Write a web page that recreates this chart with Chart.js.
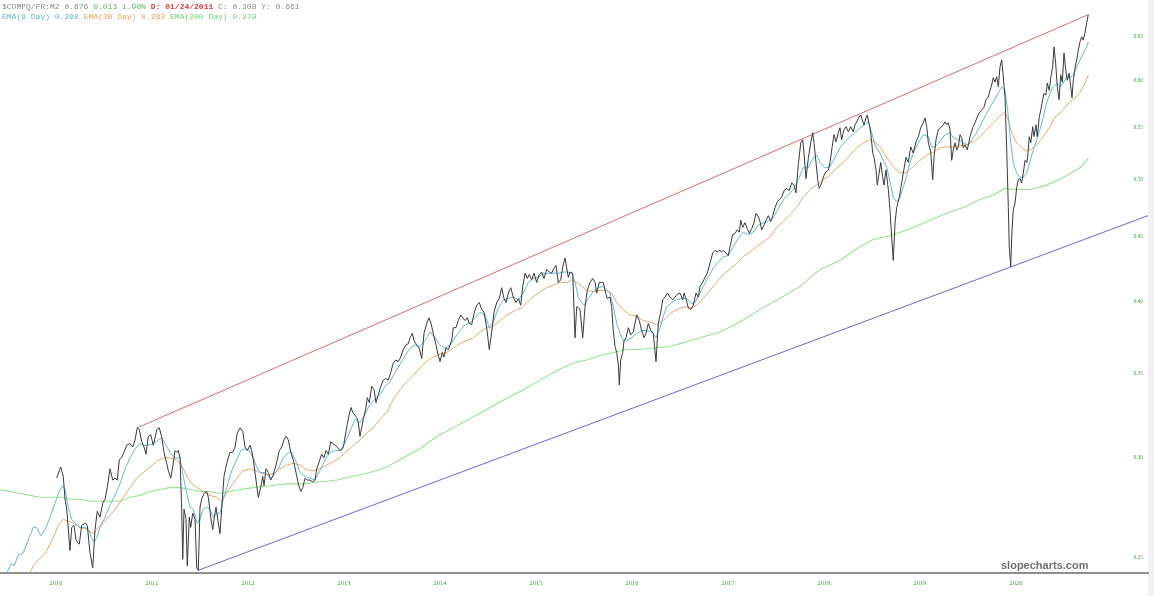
<!DOCTYPE html>
<html><head><meta charset="utf-8">
<script src="https://cdn.jsdelivr.net/npm/chart.js@4"></script>
<style>html,body{margin:0;padding:0;background:#fff;overflow:hidden}</style>
</head><body>
<canvas id="c" width="1154" height="596"></canvas>
<script>
// x unit: months since June 2009
const yearLabels = ['2010','2011','2012','2013','2014','2015','2016','2017','2018','2019','2020'];
const yearTickMonths = [7,19,31,43,55,67,79,91,103,115,127];
const priceTicks = [0.25,0.30,0.35,0.40,0.45,0.50,0.55,0.60,0.65];

// $COMPQ / M2 ratio (close)
const closeSeries = [
[7.09,0.289],[7.59,0.295],[7.91,0.290],[8.13,0.278],[8.34,0.273],[8.75,0.253],[8.96,0.264],[9.25,0.265],[9.5,0.258],[9.66,0.257],
[9.91,0.256],[10.21,0.265],[10.63,0.266],[10.91,0.265],[11.25,0.252],[11.59,0.245],[11.88,0.263],[12.16,0.272],[12.5,0.269],[12.84,0.276],
[13.13,0.278],[13.41,0.284],[13.75,0.294],[14.09,0.288],[14.38,0.289],[14.66,0.288],[14.91,0.299],[15.21,0.300],[15.5,0.303],[15.84,0.307],
[16.25,0.308],[16.59,0.306],[16.88,0.310],[17.16,0.317],[17.41,0.316],[17.71,0.309],[18.0,0.306],[18.25,0.302],[18.54,0.312],[18.84,0.313],
[19.16,0.307],[19.38,0.311],[19.59,0.316],[19.91,0.317],[20.21,0.312],[20.5,0.303],[20.84,0.297],[21.04,0.293],[21.34,0.289],[21.59,0.295],
[21.88,0.304],[22.09,0.303],[22.29,0.304],[22.5,0.300],[22.71,0.273],[22.84,0.249],[23.0,0.273],[23.25,0.268],[23.41,0.246],[23.66,0.269],
[23.84,0.264],[24.09,0.271],[24.38,0.268],[24.59,0.245],[24.79,0.244],[25.0,0.274],[25.21,0.278],[25.5,0.281],[25.84,0.282],[26.04,0.279],
[26.34,0.269],[26.59,0.263],[26.75,0.268],[27.0,0.274],[27.29,0.266],[27.5,0.261],[27.71,0.273],[28.0,0.290],[28.34,0.297],[28.75,0.303],
[29.09,0.303],[29.38,0.306],[29.66,0.314],[30.0,0.317],[30.34,0.315],[30.63,0.306],[30.91,0.304],[31.25,0.307],[31.46,0.304],[31.66,0.299],
[32.0,0.288],[32.29,0.279],[32.59,0.284],[32.84,0.290],[33.0,0.285],[33.25,0.294],[33.54,0.292],[33.84,0.288],[34.09,0.290],[34.38,0.294],
[34.66,0.299],[34.91,0.304],[35.21,0.306],[35.5,0.310],[35.75,0.312],[36.04,0.310],[36.34,0.303],[36.66,0.299],[37.0,0.292],[37.29,0.286],
[37.59,0.282],[37.84,0.284],[38.13,0.289],[38.41,0.288],[38.75,0.288],[39.09,0.287],[39.38,0.288],[39.59,0.294],[39.91,0.298],[40.21,0.302],
[40.5,0.300],[40.75,0.304],[41.04,0.302],[41.34,0.309],[41.59,0.308],[41.88,0.307],[42.16,0.306],[42.5,0.304],[42.84,0.305],[43.0,0.308],
[43.25,0.315],[43.41,0.319],[43.66,0.325],[43.88,0.329],[44.09,0.326],[44.29,0.325],[44.59,0.323],[44.79,0.320],[45.0,0.312],[45.21,0.317],
[45.41,0.322],[45.71,0.328],[45.91,0.335],[46.16,0.332],[46.46,0.342],[46.75,0.340],[47.0,0.332],[47.29,0.337],[47.59,0.342],[47.91,0.346],
[48.21,0.347],[48.54,0.346],[48.84,0.351],[49.16,0.357],[49.46,0.359],[49.79,0.358],[50.09,0.361],[50.41,0.366],[50.71,0.369],[51.04,0.370],
[51.25,0.374],[51.54,0.377],[51.75,0.372],[52.09,0.369],[52.41,0.367],[52.71,0.360],[53.0,0.377],[53.34,0.384],[53.63,0.388],[53.88,0.384],
[54.16,0.377],[54.5,0.369],[54.79,0.362],[55.0,0.358],[55.29,0.364],[55.5,0.361],[55.75,0.367],[56.04,0.366],[56.46,0.372],[56.66,0.381],
[57.0,0.381],[57.29,0.386],[57.59,0.390],[57.84,0.388],[58.13,0.386],[58.41,0.388],[58.66,0.384],[58.96,0.383],[59.25,0.391],[59.59,0.397],
[59.91,0.399],[60.21,0.394],[60.5,0.392],[60.84,0.381],[61.16,0.366],[61.46,0.378],[61.75,0.392],[62.09,0.399],[62.41,0.402],[62.71,0.410],
[63.0,0.402],[63.25,0.399],[63.54,0.406],[63.84,0.410],[64.16,0.403],[64.5,0.399],[64.79,0.402],[65.09,0.397],[65.34,0.411],[65.63,0.421],
[65.91,0.417],[66.16,0.420],[66.46,0.416],[66.75,0.421],[67.09,0.414],[67.41,0.420],[67.71,0.422],[68.0,0.417],[68.34,0.424],[68.66,0.422],
[68.96,0.421],[69.25,0.425],[69.5,0.427],[69.79,0.414],[70.09,0.416],[70.34,0.426],[70.63,0.433],[70.84,0.425],[71.04,0.418],[71.25,0.422],
[71.59,0.421],[71.88,0.374],[72.09,0.396],[72.29,0.395],[72.5,0.394],[72.84,0.374],[73.13,0.396],[73.41,0.408],[73.75,0.414],[74.09,0.417],
[74.38,0.414],[74.59,0.406],[74.91,0.414],[75.21,0.414],[75.41,0.414],[75.75,0.405],[75.91,0.402],[76.25,0.403],[76.46,0.396],[76.66,0.379],
[76.88,0.368],[77.09,0.364],[77.29,0.356],[77.41,0.343],[77.59,0.359],[77.84,0.364],[78.0,0.372],[78.25,0.374],[78.54,0.381],[78.84,0.376],
[79.16,0.378],[79.59,0.390],[79.91,0.386],[80.21,0.379],[80.5,0.374],[80.75,0.377],[81.04,0.384],[81.34,0.379],[81.66,0.377],[82.0,0.358],
[82.29,0.384],[82.59,0.392],[82.84,0.401],[83.13,0.403],[83.41,0.406],[83.75,0.403],[84.09,0.401],[84.38,0.403],[84.66,0.405],[85.0,0.406],
[85.34,0.401],[85.5,0.406],[85.75,0.402],[86.04,0.395],[86.34,0.394],[86.66,0.397],[87.0,0.406],[87.29,0.403],[87.5,0.411],[87.84,0.414],
[88.13,0.418],[88.41,0.421],[88.75,0.429],[89.09,0.437],[89.38,0.439],[89.66,0.438],[89.91,0.439],[90.21,0.438],[90.41,0.439],[90.75,0.437],
[91.04,0.435],[91.25,0.442],[91.59,0.452],[91.88,0.453],[92.16,0.456],[92.41,0.454],[92.59,0.464],[92.84,0.458],[93.13,0.462],[93.41,0.457],
[93.66,0.453],[93.96,0.457],[94.25,0.462],[94.5,0.470],[94.79,0.467],[95.0,0.463],[95.21,0.456],[95.5,0.460],[95.75,0.464],[96.04,0.468],
[96.34,0.463],[96.59,0.468],[96.88,0.475],[97.16,0.480],[97.41,0.482],[97.71,0.484],[98.0,0.490],[98.34,0.492],[98.66,0.490],[98.96,0.497],
[99.25,0.495],[99.5,0.488],[99.79,0.514],[100.09,0.535],[100.34,0.538],[100.5,0.525],[100.75,0.501],[101.04,0.520],[101.34,0.535],[101.59,0.545],
[101.75,0.535],[102.0,0.516],[102.21,0.500],[102.41,0.492],[102.71,0.497],[103.0,0.504],[103.25,0.507],[103.54,0.509],[103.75,0.516],[103.96,0.528],
[104.25,0.543],[104.5,0.536],[104.79,0.545],[105.0,0.550],[105.21,0.538],[105.5,0.548],[105.75,0.551],[106.04,0.546],[106.34,0.551],[106.66,0.546],
[106.88,0.553],[107.09,0.556],[107.38,0.561],[107.59,0.563],[107.79,0.558],[108.0,0.553],[108.25,0.560],[108.41,0.563],[108.66,0.553],[108.84,0.545],
[109.09,0.525],[109.25,0.521],[109.5,0.509],[109.66,0.495],[109.91,0.507],[110.09,0.516],[110.34,0.502],[110.5,0.495],[110.75,0.509],[111.04,0.491],
[111.25,0.473],[111.46,0.450],[111.66,0.431],[111.88,0.462],[112.09,0.475],[112.41,0.484],[112.71,0.497],[112.91,0.506],[113.25,0.521],[113.54,0.516],
[113.84,0.531],[114.16,0.525],[114.5,0.536],[114.79,0.541],[115.09,0.550],[115.41,0.555],[115.63,0.560],[115.84,0.551],[116.04,0.535],[116.34,0.526],
[116.59,0.500],[116.75,0.521],[117.0,0.538],[117.29,0.548],[117.59,0.550],[117.91,0.553],[118.13,0.556],[118.34,0.553],[118.54,0.555],[118.75,0.548],
[118.96,0.518],[119.16,0.528],[119.38,0.535],[119.59,0.528],[119.79,0.531],[120.0,0.543],[120.21,0.540],[120.41,0.530],[120.63,0.533],[120.91,0.528],
[121.25,0.541],[121.59,0.550],[121.88,0.555],[122.16,0.561],[122.41,0.565],[122.71,0.568],[123.0,0.571],[123.25,0.579],[123.54,0.582],[123.75,0.589],
[123.96,0.595],[124.16,0.603],[124.38,0.598],[124.59,0.604],[124.79,0.593],[125.0,0.615],[125.21,0.623],[125.41,0.604],[125.63,0.582],[125.84,0.528],
[126.04,0.475],[126.16,0.442],[126.34,0.426],[126.5,0.456],[126.66,0.473],[126.88,0.479],[127.09,0.493],[127.29,0.500],[127.5,0.501],[127.71,0.497],
[127.91,0.506],[128.13,0.518],[128.34,0.516],[128.46,0.521],[128.66,0.541],[128.84,0.535],[129.09,0.551],[129.25,0.541],[129.5,0.553],[129.66,0.541],
[129.91,0.561],[130.09,0.568],[130.34,0.579],[130.5,0.586],[130.75,0.584],[130.91,0.597],[131.16,0.589],[131.34,0.603],[131.59,0.615],[131.75,0.638],
[131.96,0.619],[132.16,0.593],[132.38,0.579],[132.59,0.606],[132.79,0.598],[133.0,0.631],[133.21,0.612],[133.41,0.600],[133.63,0.608],[133.84,0.593],
[134.0,0.581],[134.16,0.600],[134.38,0.614],[134.59,0.623],[134.79,0.634],[135.0,0.644],[135.21,0.650],[135.41,0.646],[135.63,0.655],[135.84,0.667],
[136.04,0.677]
];

// EMA(9)
const ema9Series = [
[0.84,0.243],[1.46,0.247],[1.75,0.246],[2.29,0.251],[2.91,0.252],[3.54,0.258],[4.16,0.264],[4.59,0.264],[5.09,0.260],[5.63,0.263],
[6.25,0.269],[6.88,0.276],[7.41,0.282],[7.84,0.285],[8.13,0.283],[8.54,0.274],[8.96,0.268],[9.38,0.266],[10.0,0.264],[10.63,0.264],
[11.04,0.263],[11.46,0.259],[11.75,0.257],[12.09,0.259],[12.5,0.264],[13.13,0.269],[13.75,0.275],[14.38,0.280],[15.0,0.286],[15.63,0.294],
[16.25,0.300],[16.88,0.305],[17.5,0.308],[17.91,0.307],[18.54,0.307],[19.16,0.308],[19.79,0.310],[20.21,0.311],[20.63,0.308],[21.25,0.303],
[21.88,0.300],[22.5,0.300],[22.91,0.290],[23.34,0.281],[23.75,0.274],[24.16,0.273],[24.66,0.266],[25.0,0.268],[25.41,0.273],[25.84,0.274],
[26.25,0.273],[26.66,0.269],[27.09,0.271],[27.5,0.271],[27.91,0.278],[28.34,0.284],[28.96,0.293],[29.59,0.299],[30.09,0.304],[30.63,0.305],
[31.16,0.304],[31.66,0.300],[32.09,0.295],[32.5,0.292],[33.13,0.292],[33.75,0.289],[34.16,0.290],[34.79,0.294],[35.41,0.300],[36.04,0.303],
[36.46,0.303],[37.0,0.298],[37.5,0.292],[38.13,0.290],[38.75,0.289],[39.38,0.288],[40.0,0.293],[40.63,0.299],[41.25,0.303],[41.88,0.304],
[42.5,0.304],[43.13,0.308],[43.75,0.315],[44.38,0.322],[45.0,0.320],[45.63,0.325],[46.25,0.331],[46.88,0.334],[47.5,0.337],[48.13,0.342],
[48.75,0.345],[49.38,0.351],[50.0,0.356],[50.63,0.362],[51.25,0.367],[51.88,0.369],[52.5,0.368],[53.13,0.372],[53.75,0.378],[54.38,0.374],
[55.0,0.369],[55.63,0.367],[56.25,0.369],[56.88,0.374],[57.5,0.379],[58.13,0.383],[58.75,0.384],[59.38,0.388],[60.0,0.392],[60.63,0.390],
[61.16,0.381],[61.66,0.385],[62.29,0.395],[62.91,0.401],[63.54,0.402],[64.16,0.403],[64.79,0.401],[65.41,0.406],[66.04,0.414],[66.66,0.417],
[67.29,0.418],[67.91,0.421],[68.54,0.421],[69.16,0.421],[69.79,0.421],[70.41,0.422],[71.04,0.422],[71.46,0.421],[71.88,0.414],[72.29,0.403],
[72.71,0.399],[73.0,0.397],[73.54,0.402],[74.16,0.407],[74.79,0.410],[75.41,0.411],[75.84,0.408],[76.25,0.406],[76.66,0.396],[77.09,0.384],
[77.5,0.377],[77.91,0.372],[78.34,0.372],[78.96,0.374],[79.59,0.377],[80.21,0.379],[80.84,0.379],[81.46,0.378],[82.0,0.374],[82.5,0.381],
[82.91,0.389],[83.34,0.396],[83.96,0.399],[84.59,0.401],[85.21,0.402],[85.84,0.402],[86.46,0.398],[86.88,0.399],[87.41,0.405],[87.91,0.411],
[88.54,0.418],[89.16,0.425],[89.79,0.430],[90.41,0.434],[91.04,0.435],[91.66,0.442],[92.29,0.449],[92.91,0.454],[93.54,0.452],[94.16,0.454],
[94.79,0.460],[95.41,0.462],[96.04,0.463],[96.66,0.466],[97.29,0.474],[97.91,0.482],[98.54,0.486],[99.16,0.491],[99.79,0.500],[100.41,0.511],
[101.04,0.511],[101.59,0.520],[102.09,0.523],[102.5,0.516],[103.13,0.511],[103.75,0.512],[104.38,0.521],[105.0,0.530],[105.63,0.536],[106.25,0.541],
[106.88,0.545],[107.5,0.550],[108.13,0.553],[108.54,0.556],[108.96,0.545],[109.38,0.533],[110.0,0.525],[110.41,0.518],[110.84,0.512],[111.25,0.498],
[111.66,0.484],[112.09,0.480],[112.5,0.484],[112.91,0.493],[113.34,0.504],[113.75,0.516],[114.16,0.525],[114.79,0.535],[115.41,0.543],[116.04,0.541],
[116.46,0.531],[116.88,0.531],[117.5,0.536],[118.13,0.543],[118.75,0.545],[119.16,0.540],[119.79,0.538],[120.41,0.535],[121.04,0.533],[121.66,0.540],
[122.29,0.548],[122.91,0.558],[123.54,0.568],[124.16,0.577],[124.79,0.586],[125.21,0.593],[125.63,0.589],[125.96,0.568],[126.34,0.535],[126.66,0.516],
[127.09,0.506],[127.5,0.502],[127.91,0.502],[128.34,0.506],[128.75,0.517],[129.16,0.528],[129.59,0.538],[130.0,0.548],[130.41,0.561],[130.84,0.576],
[131.25,0.586],[131.66,0.593],[132.09,0.597],[132.5,0.593],[132.91,0.597],[133.34,0.604],[133.75,0.603],[134.16,0.606],[134.59,0.615],[135.0,0.623],
[135.41,0.631],[135.84,0.638],[136.04,0.644]
];

// EMA(30)
const ema30Series = [
[3.75,0.243],[4.16,0.246],[4.59,0.248],[5.21,0.250],[5.84,0.253],[6.66,0.259],[7.29,0.265],[7.91,0.268],[8.54,0.267],[9.16,0.266],
[10.0,0.264],[10.84,0.263],[11.66,0.261],[12.29,0.264],[12.91,0.266],[13.75,0.270],[14.59,0.274],[15.41,0.279],[16.25,0.284],[17.09,0.289],
[17.91,0.292],[18.75,0.295],[19.59,0.298],[20.41,0.300],[21.25,0.300],[22.09,0.299],[22.71,0.296],[23.34,0.290],[23.96,0.286],[24.59,0.284],
[25.41,0.282],[26.25,0.280],[27.09,0.279],[27.71,0.277],[28.13,0.280],[28.75,0.284],[29.59,0.289],[30.41,0.293],[31.25,0.294],[31.88,0.293],
[32.5,0.292],[33.13,0.291],[33.75,0.291],[34.38,0.292],[35.0,0.294],[35.84,0.296],[36.66,0.297],[37.5,0.296],[38.13,0.294],[38.75,0.293],
[39.38,0.293],[40.0,0.294],[40.84,0.296],[41.66,0.298],[42.5,0.300],[43.13,0.303],[43.75,0.305],[44.38,0.308],[45.0,0.310],[45.84,0.314],
[46.66,0.317],[47.5,0.322],[48.34,0.326],[49.16,0.334],[50.0,0.340],[50.84,0.345],[51.66,0.349],[52.5,0.354],[53.34,0.358],[54.16,0.361],
[55.0,0.363],[55.84,0.364],[56.66,0.367],[57.5,0.370],[58.34,0.372],[59.16,0.374],[60.0,0.378],[60.84,0.381],[61.46,0.381],[62.09,0.384],
[62.91,0.388],[63.75,0.391],[64.59,0.394],[65.21,0.395],[65.84,0.399],[66.66,0.403],[67.5,0.407],[68.34,0.410],[69.16,0.412],[70.0,0.414],
[70.84,0.414],[71.46,0.416],[72.09,0.414],[72.71,0.411],[73.34,0.408],[74.16,0.407],[75.0,0.408],[75.84,0.408],[76.46,0.406],[77.09,0.399],
[77.91,0.394],[78.75,0.390],[79.59,0.389],[80.41,0.386],[81.25,0.385],[82.09,0.383],[82.91,0.386],[83.75,0.391],[85.0,0.395],[85.84,0.396],
[86.46,0.395],[87.09,0.397],[87.91,0.402],[88.75,0.408],[89.59,0.414],[90.41,0.420],[91.25,0.424],[92.09,0.429],[92.91,0.434],[93.75,0.438],
[94.59,0.442],[95.41,0.446],[96.25,0.450],[97.09,0.458],[97.91,0.463],[98.75,0.469],[99.59,0.475],[100.41,0.484],[101.25,0.491],[102.09,0.495],
[102.91,0.500],[103.75,0.504],[104.59,0.511],[105.41,0.516],[106.25,0.523],[107.09,0.530],[107.91,0.535],[108.75,0.538],[109.38,0.536],[110.0,0.531],
[110.84,0.521],[111.66,0.512],[112.5,0.506],[113.34,0.507],[114.16,0.512],[115.0,0.518],[115.84,0.523],[116.66,0.526],[117.5,0.530],[118.34,0.531],
[119.16,0.531],[120.0,0.532],[120.84,0.533],[121.66,0.536],[122.5,0.541],[123.34,0.548],[124.16,0.555],[125.0,0.562],[125.63,0.566],[126.04,0.558],
[126.46,0.545],[127.09,0.535],[127.71,0.530],[128.34,0.527],[128.96,0.529],[129.59,0.533],[130.41,0.541],[131.25,0.551],[131.88,0.561],[132.5,0.565],
[133.13,0.571],[133.75,0.577],[134.38,0.581],[135.0,0.587],[135.63,0.597],[136.04,0.606]
];

// EMA(200)
const ema200Series = [
[0,0.283],[1.25,0.282],[2.5,0.281],[3.75,0.280],[5,0.279],[6.25,0.279],[7.5,0.279],[8.75,0.278],[10,0.278],[11.25,0.277],
[12.5,0.277],[13.75,0.277],[15,0.277],[16.25,0.279],[17.5,0.280],[18.75,0.282],[20,0.283],[21.25,0.284],[22.5,0.284],[23.75,0.283],
[25,0.282],[26.25,0.282],[27.5,0.281],[28.75,0.282],[30,0.283],[31.66,0.284],[33.75,0.285],[35.84,0.286],[37.91,0.286],[40,0.287],
[42.09,0.288],[44.16,0.290],[46.25,0.292],[48.34,0.295],[50.41,0.300],[52.5,0.305],[54.59,0.312],[56.25,0.316],[59.38,0.324],[61.25,0.329],
[63.13,0.334],[65.41,0.340],[67.5,0.346],[69.59,0.352],[71.66,0.357],[73.34,0.359],[75,0.362],[76.66,0.364],[78.34,0.366],[80,0.366],
[81.66,0.367],[83.75,0.368],[85,0.370],[87.5,0.374],[90,0.378],[92.5,0.385],[95,0.394],[97.5,0.402],[100,0.411],[102.5,0.424],
[105,0.431],[107.5,0.442],[109.16,0.448],[111.25,0.451],[114.16,0.458],[116.25,0.464],[118.34,0.470],[120.41,0.475],[122.5,0.482],[124.16,0.486],
[125.63,0.492],[126.66,0.491],[128.75,0.491],[130.84,0.495],[132.91,0.502],[135,0.511],[136.04,0.520]
];

// channel lines (start, end)
const upperChannel = [[17.16,0.317],[136.04,0.677]];
const lowerChannel = [[24.79,0.244],[143.5,0.468]];

const xRange = [0, 143.5];
const yRange = [0.2428, 0.6954];

function pts(arr){ return arr.map(p => ({x:p[0], y:p[1]})); }

const headerLine1 = [
  ['$COMPQ/FR:M2 0.676 ', '#8a8a8a', false],
  ['0.013 1.90% ', '#5cb85c', false],
  ['D: 01/24/2011 ', '#e03a3a', true],
  ['C: 0.308 Y: 0.661', '#8a8a8a', false]
];
const headerLine2 = [
  ['EMA(9 Day) 0.298 ', '#5bb6dc', false],
  ['EMA(30 Day) 0.283 ', '#e9a35d', false],
  ['EMA(200 Day) 0.279', '#6fd36f', false]
];

const chrome = {
  id: 'chrome',
  beforeDraw(chart) {
    const c = chart.ctx, a = chart.chartArea;
    c.save();
    c.fillStyle = '#ffffff';
    c.fillRect(0, 0, chart.width, chart.height);
    c.fillStyle = '#f1f1f1';
    c.fillRect(a.right, 0, chart.width - a.right, chart.height);
    c.restore();
  },
  afterDraw(chart) {
    const c = chart.ctx;
    c.save();
    c.textBaseline = 'middle';
    c.textAlign = 'left';
    const runs = (list, x, y) => {
      for (const [t, col, bold] of list) {
        c.font = (bold ? 'bold ' : '') + '8px "Liberation Mono", monospace';
        c.fillStyle = col;
        c.fillText(t, x, y);
        x += c.measureText(t).width;
      }
    };
    runs(headerLine1, 2, 6.5);
    runs(headerLine2, 2, 16.5);
    c.font = 'bold 11px "Liberation Sans", sans-serif';
    c.fillStyle = '#707070';
    c.fillText('slopecharts.com', 1001, 566);
    c.restore();
  }
};

new Chart(document.getElementById('c'), {
  type: 'line',
  data: {
    datasets: [
      {label:'$COMPQ/FR:M2', data: pts(closeSeries), borderColor:'#3a3a3a', borderWidth:1},
      {label:'EMA(9 Day)', data: pts(ema9Series), borderColor:'#62b8da', borderWidth:1},
      {label:'EMA(30 Day)', data: pts(ema30Series), borderColor:'#eca767', borderWidth:1},
      {label:'EMA(200 Day)', data: pts(ema200Series), borderColor:'#93e493', borderWidth:1.1},
      {label:'upper', data: pts(upperChannel), borderColor:'#de6b6b', borderWidth:1},
      {label:'lower', data: pts(lowerChannel), borderColor:'#6a68d6', borderWidth:1}
    ]
  },
  options: {
    responsive: false,
    devicePixelRatio: 1,
    animation: false,
    layout: {padding: 0},
    elements: {point: {radius: 0}, line: {tension: 0, fill: false}},
    plugins: {legend: {display: false}, tooltip: {enabled: false}},
    scales: {
      x: {
        type: 'linear', position: 'bottom', min: xRange[0], max: xRange[1],
        grid: {display: false, drawTicks: false},
        border: {display: true, color: '#8f8f8f', width: 2},
        afterBuildTicks(s) { s.ticks = yearTickMonths.map(v => ({value: v})); },
        afterFit(s) { s.height = 23; },
        ticks: {
          autoSkip: false, maxRotation: 0, padding: 6,
          color: '#3f9a3f', font: {family: '"Liberation Serif", serif', size: 6.5},
          callback: (v) => { const i = yearTickMonths.indexOf(v); return i >= 0 ? yearLabels[i] : ''; }
        }
      },
      y: {
        type: 'logarithmic', position: 'right', min: yRange[0], max: yRange[1],
        grid: {display: false, drawTicks: false},
        border: {display: false},
        afterBuildTicks(s) { s.ticks = priceTicks.map(v => ({value: v})); },
        afterFit(s) { s.width = 6; },
        ticks: {
          mirror: true, padding: -5,
          color: '#3f9a3f', font: {family: '"Liberation Serif", serif', size: 5.5},
          callback: (v) => Number(v).toFixed(2)
        }
      }
    }
  },
  plugins: [chrome]
});
</script>
</body></html>
